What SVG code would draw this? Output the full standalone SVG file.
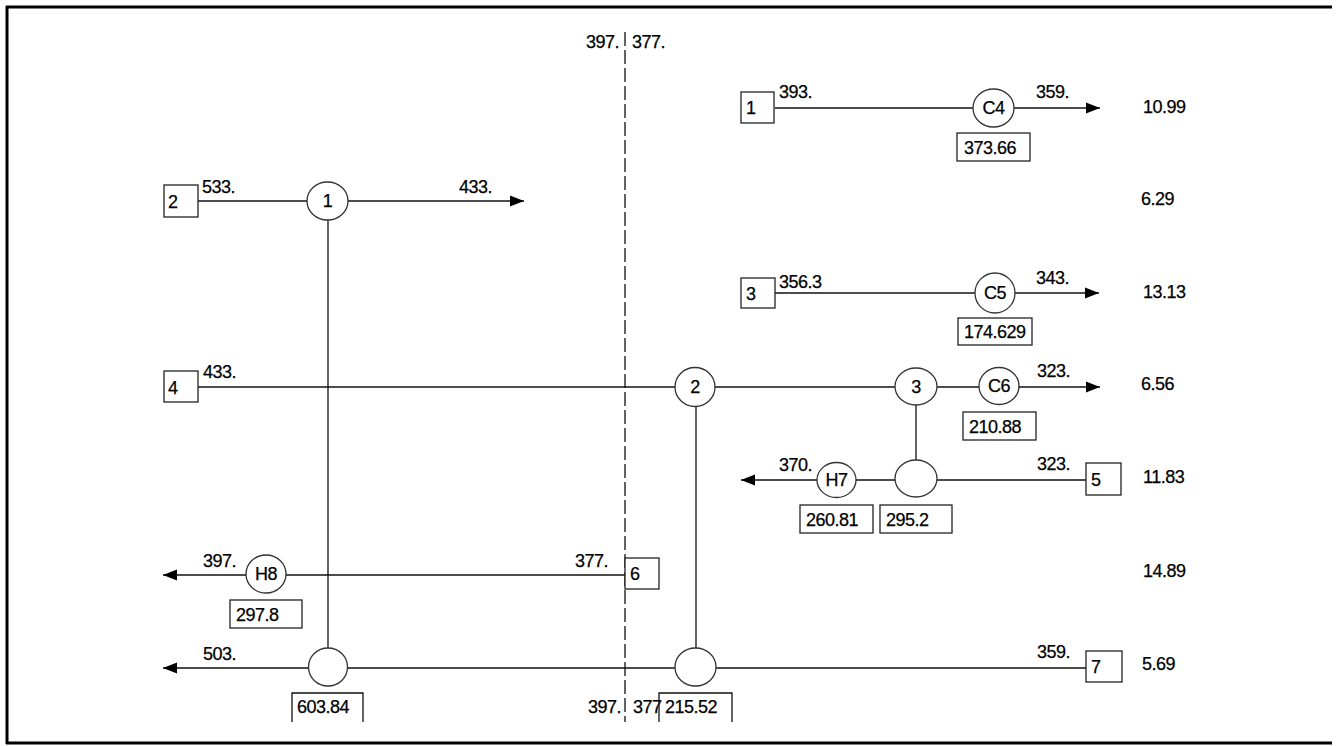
<svg xmlns="http://www.w3.org/2000/svg" width="1338" height="746" viewBox="0 0 1338 746">
<style>
text{font-family:"Liberation Sans",Arial,sans-serif;font-size:18px;fill:#000;letter-spacing:-0.5px;stroke:#000;stroke-width:0.25px}
.c{text-anchor:middle}
.ln{stroke:#111;stroke-width:1.3;fill:none}
.arr{stroke:#111;stroke-width:1.3;fill:none;marker-end:url(#ah)}
.dash{stroke:#111;stroke-width:1.3;fill:none;stroke-dasharray:14 4}
.bx{fill:#fff;stroke:#222;stroke-width:1.3}
.ci{fill:#fff;stroke:#333;stroke-width:1.3}
.frame{stroke:#000;stroke-width:3;fill:none}
</style>
<defs>
<marker id="ah" markerUnits="userSpaceOnUse" markerWidth="14" markerHeight="12" refX="14" refY="6" orient="auto">
<path d="M0,0.5 L14,6 L0,11.5 z" fill="#000"/>
</marker>
</defs>
<rect width="1338" height="746" fill="#fff"/>
<g id="frame">
<path class="frame" d="M6,7 H1332 M7,6 V744 M6,743 H1332"/>
</g>
<g id="connectors">
<line class="dash" x1="625" y1="32" x2="625" y2="722"/>
<line class="ln" x1="775" y1="108" x2="973" y2="108"/>
<line class="arr" x1="1014" y1="108" x2="1100" y2="108"/>
<line class="ln" x1="198" y1="201" x2="307" y2="201"/>
<line class="arr" x1="348" y1="201" x2="524" y2="201"/>
<line class="ln" x1="328" y1="220" x2="328" y2="648"/>
<line class="ln" x1="775" y1="293" x2="975" y2="293"/>
<line class="arr" x1="1015" y1="293" x2="1099" y2="293"/>
<line class="ln" x1="198" y1="387" x2="675" y2="387"/>
<line class="ln" x1="715" y1="387" x2="895" y2="387"/>
<line class="ln" x1="937" y1="387" x2="979" y2="387"/>
<line class="arr" x1="1019" y1="387" x2="1100" y2="387"/>
<line class="ln" x1="696" y1="407" x2="696" y2="648"/>
<line class="ln" x1="916" y1="405" x2="916" y2="460"/>
<line class="ln" x1="1086" y1="480" x2="937" y2="480"/>
<line class="ln" x1="895" y1="480" x2="856" y2="480"/>
<line class="arr" x1="817" y1="480" x2="741" y2="480"/>
<line class="ln" x1="625" y1="575" x2="286" y2="575"/>
<line class="arr" x1="246" y1="575" x2="163" y2="575"/>
<line class="ln" x1="1086" y1="668" x2="716" y2="668"/>
<line class="ln" x1="675" y1="668" x2="348" y2="668"/>
<line class="arr" x1="308" y1="668" x2="163" y2="668"/>
</g>
<g id="cut-labels">
<text x="619" y="48" text-anchor="end">397.</text>
<text x="632" y="48">377.</text>
<text x="621" y="713" text-anchor="end">397.</text>
<text x="633" y="713">377</text>
</g>
<g id="stream1">
<rect class="bx" x="741" y="92" width="33" height="31"/>
<text x="746" y="114">1</text>
<text x="779" y="98">393.</text>
<text x="1036" y="98">359.</text>
<text x="1143" y="113">10.99</text>
</g>
<g id="stream2">
<rect class="bx" x="164" y="185" width="34" height="32"/>
<text x="168" y="208">2</text>
<text x="202" y="193">533.</text>
<text x="459" y="193">433.</text>
<text x="1141" y="205">6.29</text>
</g>
<g id="stream3">
<rect class="bx" x="741" y="278" width="34" height="30"/>
<text x="746" y="300">3</text>
<text x="779" y="288">356.3</text>
<text x="1036" y="284">343.</text>
<text x="1143" y="298">13.13</text>
</g>
<g id="stream4">
<rect class="bx" x="164" y="371" width="34" height="31"/>
<text x="168" y="394">4</text>
<text x="203" y="378">433.</text>
<text x="1037" y="377">323.</text>
<text x="1141" y="390">6.56</text>
</g>
<g id="stream5">
<rect class="bx" x="1086" y="463" width="35" height="32"/>
<text x="1091" y="486">5</text>
<text x="1037" y="470">323.</text>
<text x="779" y="471">370.</text>
<text x="1143" y="483">11.83</text>
</g>
<g id="stream6">
<rect class="bx" x="625" y="558" width="34" height="31"/>
<text x="630" y="580">6</text>
<text x="575" y="567">377.</text>
<text x="203" y="567">397.</text>
<text x="1143" y="577">14.89</text>
</g>
<g id="stream7">
<rect class="bx" x="1086" y="651" width="36" height="31"/>
<text x="1091" y="673">7</text>
<text x="1037" y="658">359.</text>
<text x="203" y="660">503.</text>
<text x="1142" y="670">5.69</text>
</g>
<g id="C4">
<ellipse class="ci" cx="993.5" cy="108" rx="20.5" ry="19"/>
<text class="c" x="993.5" y="114">C4</text>
<rect class="bx" x="957" y="133" width="73" height="28"/>
<text x="964" y="154">373.66</text>
</g>
<g id="C5">
<ellipse class="ci" cx="995" cy="293" rx="20" ry="20"/>
<text class="c" x="995" y="299">C5</text>
<rect class="bx" x="958" y="318" width="74" height="27"/>
<text x="964" y="338">174.629</text>
</g>
<g id="C6">
<ellipse class="ci" cx="999" cy="386" rx="20" ry="18.5"/>
<text class="c" x="999" y="392">C6</text>
<rect class="bx" x="963" y="412" width="73" height="28"/>
<text x="969" y="433">210.88</text>
</g>
<g id="E1">
<ellipse class="ci" cx="327.5" cy="201" rx="20.5" ry="19"/>
<text class="c" x="327.5" y="207">1</text>
</g>
<g id="E2">
<ellipse class="ci" cx="695" cy="387" rx="20" ry="19.5"/>
<text class="c" x="695" y="393">2</text>
</g>
<g id="E3">
<ellipse class="ci" cx="916" cy="386.5" rx="21" ry="18.5"/>
<text class="c" x="916" y="393">3</text>
</g>
<g id="E3b">
<ellipse class="ci" cx="916" cy="478.5" rx="21" ry="18.5"/>
<rect class="bx" x="880" y="505" width="72" height="28"/>
<text x="886" y="526">295.2</text>
</g>
<g id="H7">
<ellipse class="ci" cx="836.5" cy="480" rx="19.5" ry="17.5"/>
<text class="c" x="836.5" y="486">H7</text>
<rect class="bx" x="800" y="505" width="73" height="28"/>
<text x="806" y="526">260.81</text>
</g>
<g id="H8">
<ellipse class="ci" cx="266" cy="574" rx="20" ry="19"/>
<text class="c" x="266" y="580">H8</text>
<rect class="bx" x="230" y="600" width="72" height="28"/>
<text x="236" y="621">297.8</text>
</g>
<g id="E1b">
<ellipse class="ci" cx="328" cy="667" rx="19.5" ry="19"/>
<path class="ln" d="M292,722 V693 H363 V722"/>
<text x="297" y="713">603.84</text>
</g>
<g id="E2b">
<ellipse class="ci" cx="695.5" cy="667" rx="20.5" ry="19"/>
<path class="ln" d="M659,722 V693 H732 V722"/>
<text x="665" y="713">215.52</text>
</g>
</svg>
